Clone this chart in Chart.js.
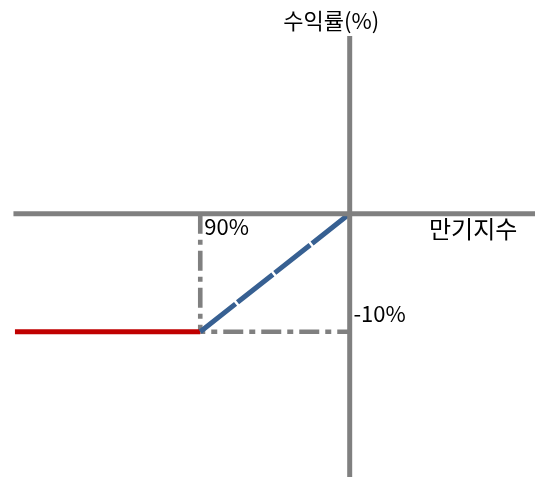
<!DOCTYPE html>
<html>
<head>
<meta charset="utf-8">
<script src="https://cdn.jsdelivr.net/npm/chart.js@4/dist/chart.umd.min.js"></script>
<style>
  html, body { margin: 0; padding: 0; background: #fff; }
  #chart { display: block; }
</style>
</head>
<body>
<canvas id="chart" width="538" height="477"></canvas>
<script>
// value ranges of the plane (index %, return %)
const xRange = [76.6, 112.6];
const yRange = [-22.3, 18.1];

// lines, as [index, return] pairs
const horizAxis = [[77.5, 0], [112.4, 0]];
const vertAxis = [[100, 15.05], [100, -22.3]];
const floorLine = [[77.6, -10], [90, -10]];
const payoffLine = [[90, -10], [100, 0]];
const guideV = [[90, 0], [90, -10]];
const guideH = [[90, -10], [100, -10]];

// text labels and where they sit on the plane
const labelTexts = ['수익률(%)', '만기지수', '90%', '-10%'];
const labelX = [98.76, 108.26, 90.27, 100.25];
const labelY = [16.31, -1.3, -1.13, -8.45];
const labelAlign = ['center', 'center', 'left', 'left'];
const labelSize = [22, 24, 22, 22];

const pts = (arr) => arr.map(([x, y]) => ({ x, y }));

const GRAY = '#808080';

const labelsPlugin = {
  id: 'labels',
  afterDatasetsDraw(chart){
    const { ctx, scales } = chart;
    ctx.save();
    ctx.fillStyle = '#000';
    ctx.textBaseline = 'middle';
    labelTexts.forEach((t, i) => {
      ctx.font = `${labelSize[i]}px "Noto Sans CJK KR", "Noto Sans", sans-serif`;
      ctx.textAlign = labelAlign[i];
      ctx.fillText(t, scales.x.getPixelForValue(labelX[i]), scales.y.getPixelForValue(labelY[i]));
    });
    ctx.restore();
  }
};

const line = (data, color, width, dash, offset, order) => ({
  data: pts(data),
  showLine: true,
  borderColor: color,
  borderWidth: width,
  borderDash: dash,
  borderDashOffset: offset,
  pointRadius: 0,
  fill: false,
  order
});

new Chart(document.getElementById('chart'), {
  type: 'scatter',
  data: {
    datasets: [
      line(horizAxis, GRAY, 5, [], 0, 0),
      line(vertAxis, GRAY, 5, [], 0, 0),
      line(payoffLine, '#376092', 5, [45, 2.5], 0, 1),
      line(floorLine, '#C00000', 5, [], 0, 2),
      line(guideV, GRAY, 4.6, [20, 6, 5, 6], 0, 3),
      line(guideH, GRAY, 4.6, [20, 6, 6, 6], 15, 3)
    ]
  },
  options: {
    responsive: false,
    animation: false,
    layout: { padding: 0 },
    plugins: { legend: { display: false }, tooltip: { enabled: false } },
    scales: {
      x: { type: 'linear', display: false, min: xRange[0], max: xRange[1] },
      y: { type: 'linear', display: false, min: yRange[0], max: yRange[1] }
    }
  },
  plugins: [labelsPlugin]
});
</script>
</body>
</html>
